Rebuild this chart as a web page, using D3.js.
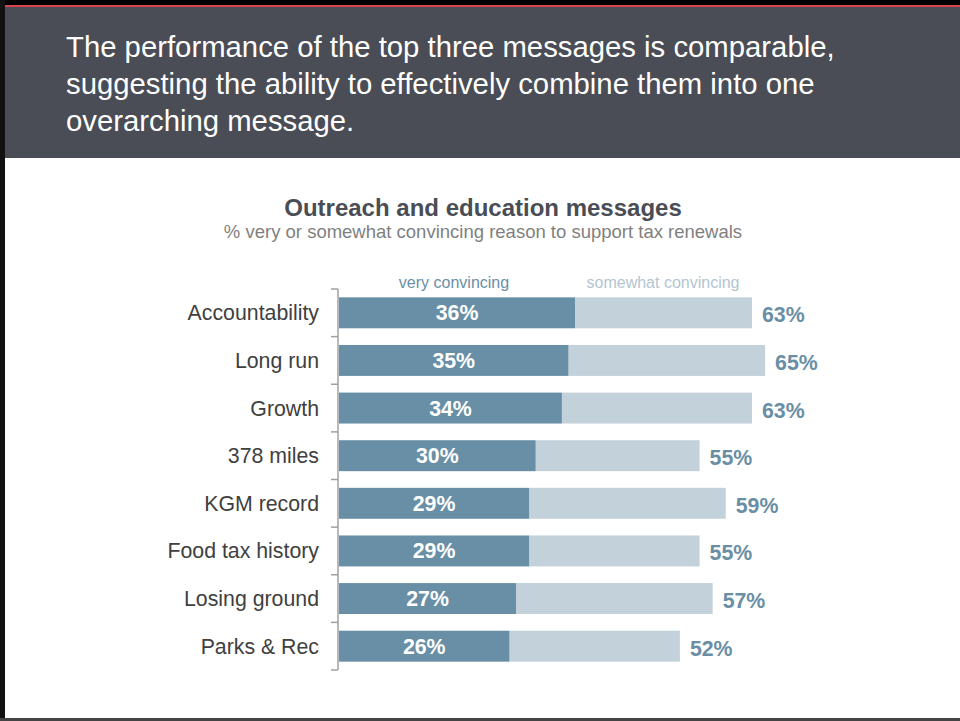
<!DOCTYPE html>
<meta charset="utf-8">
<style>
body { margin: 0; background: #fff; }
text { font-family: "Liberation Sans", Arial, sans-serif; }
</style>
<script src="https://d3js.org/d3.v7.min.js"></script>
<div id="chart"></div>
<script>
var categories = ["Accountability", "Long run", "Growth", "378 miles", "KGM record", "Food tax history", "Losing ground", "Parks & Rec"];
var veryConvincing = [36, 35, 34, 30, 29, 29, 27, 26];
var totalConvincing = [63, 65, 63, 55, 59, 55, 57, 52];

var headline = ["The performance of the top three messages is comparable,",
                "suggesting the ability to effectively combine them into one",
                "overarching message."];

var width = 960, height = 721;
var svg = d3.select("#chart").append("svg")
    .attr("width", width)
    .attr("height", height);

// slide frame
svg.append("rect").attr("width", width).attr("height", height).attr("fill", "#fff");
svg.append("rect").attr("x", 0).attr("y", 0).attr("width", width).attr("height", 5).attr("fill", "#000");
svg.append("rect").attr("x", 0).attr("y", 5).attr("width", width).attr("height", 2).attr("fill", "#d9434d");
svg.append("rect").attr("x", 0).attr("y", 7).attr("width", width).attr("height", 151).attr("fill", "#4a4d55");
svg.append("rect").attr("x", 0).attr("y", 0).attr("width", 5).attr("height", height).attr("fill", "#111");
svg.append("rect").attr("x", 0).attr("y", 718).attr("width", width).attr("height", 3).attr("fill", "#444");

svg.append("g").selectAll("text")
    .data(headline)
  .enter().append("text")
    .attr("x", 66)
    .attr("y", (d, i) => 57 + i * 37)
    .attr("fill", "#fff")
    .style("font-size", "29.3px")
    .text(d => d);

// chart title
svg.append("text")
    .attr("x", 483).attr("y", 216)
    .attr("text-anchor", "middle")
    .attr("fill", "#4a4d55")
    .style("font-size", "24px")
    .style("font-weight", "bold")
    .text("Outreach and education messages");
svg.append("text")
    .attr("x", 483).attr("y", 238)
    .attr("text-anchor", "middle")
    .attr("fill", "#7f7f7f")
    .style("font-size", "18.5px")
    .text("% very or somewhat convincing reason to support tax renewals");

var rows = categories.map((c, i) => ({ name: c, very: veryConvincing[i], total: totalConvincing[i] }));

var x = d3.scaleLinear().domain([0, 63]).range([339, 752]);
var y = d3.scaleBand().domain(categories).range([289, 670]).paddingInner(0.35).paddingOuter(0.175);

// axis with ticks between rows
var axisG = svg.append("g");
axisG.append("line")
    .attr("x1", 338).attr("x2", 338)
    .attr("y1", y.range()[0]).attr("y2", y.range()[1])
    .attr("stroke", "#a0a0a0").attr("stroke-width", 1.5);
var step = y.step();
axisG.selectAll(".tick")
    .data(d3.range(categories.length + 1))
  .enter().append("line")
    .attr("x1", 331).attr("x2", 338)
    .attr("y1", i => y.range()[0] + i * step)
    .attr("y2", i => y.range()[0] + i * step)
    .attr("stroke", "#a0a0a0").attr("stroke-width", 1.5);

var row = svg.append("g").selectAll("g")
    .data(rows)
  .enter().append("g");

row.append("rect")
    .attr("x", d => x(d.very))
    .attr("y", d => y(d.name))
    .attr("width", d => x(d.total) - x(d.very))
    .attr("height", y.bandwidth())
    .attr("fill", "#c3d1da");

row.append("rect")
    .attr("x", x(0))
    .attr("y", d => y(d.name))
    .attr("width", d => x(d.very) - x(0))
    .attr("height", y.bandwidth())
    .attr("fill", "#688fa5");

row.append("text")
    .attr("x", 319)
    .attr("y", d => y(d.name) + y.bandwidth() / 2)
    .attr("dy", "0.35em")
    .attr("text-anchor", "end")
    .attr("fill", "#404040")
    .style("font-size", "21.3px")
    .text(d => d.name);

row.append("text")
    .attr("x", d => (x(0) + x(d.very)) / 2)
    .attr("y", d => y(d.name) + y.bandwidth() / 2)
    .attr("dy", "0.35em")
    .attr("text-anchor", "middle")
    .attr("fill", "#fff")
    .style("font-size", "21.3px")
    .style("font-weight", "bold")
    .text(d => d.very + "%");

row.append("text")
    .attr("x", d => x(d.total) + 10)
    .attr("y", d => y(d.name) + y.bandwidth() / 2 + 2)
    .attr("dy", "0.35em")
    .attr("fill", "#6a8fa5")
    .style("font-size", "21.3px")
    .style("font-weight", "bold")
    .text(d => d.total + "%");

// legend labels above the first bar
svg.append("text")
    .attr("x", 454).attr("y", 288)
    .attr("text-anchor", "middle")
    .attr("fill", "#6a8fa5")
    .style("font-size", "16px")
    .text("very convincing");
svg.append("text")
    .attr("x", 663).attr("y", 288)
    .attr("text-anchor", "middle")
    .attr("fill", "#b3c5d1")
    .style("font-size", "16px")
    .text("somewhat convincing");
</script>
